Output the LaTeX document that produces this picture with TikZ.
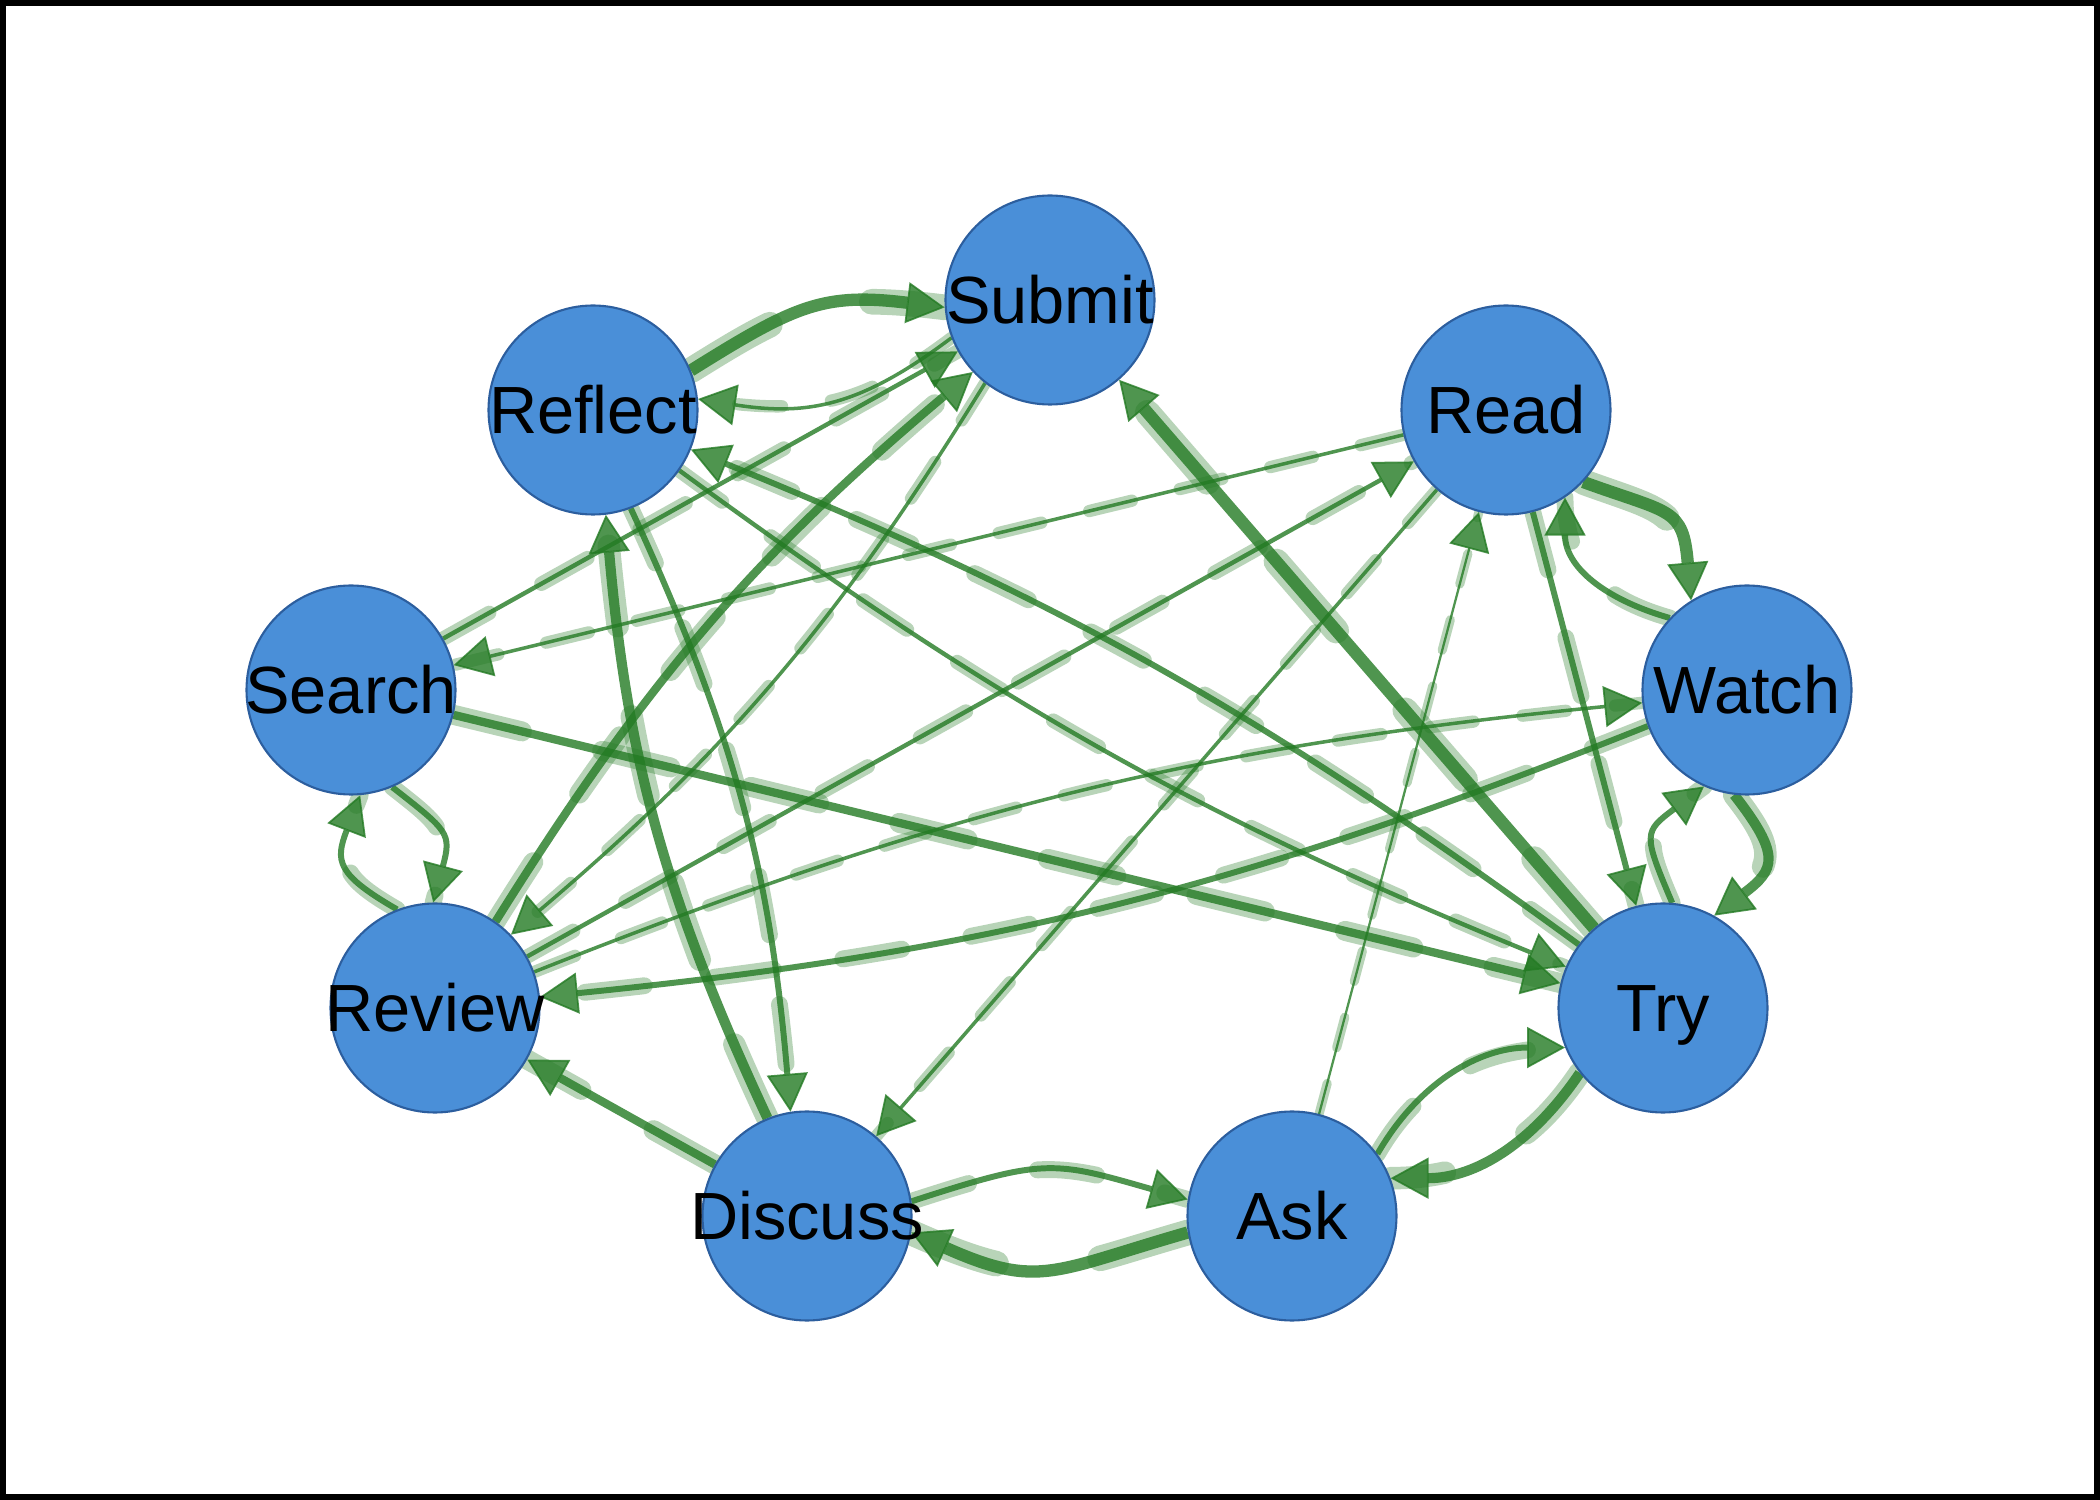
\documentclass[tikz,border=0pt]{standalone}
\usepackage{fontspec}
\setmainfont{Liberation Sans}
\usetikzlibrary{arrows.meta,backgrounds}
\definecolor{lpBlue}{HTML}{4A8FD8}
\definecolor{lpRim}{HTML}{2C5E9E}
\definecolor{lpGreen}{HTML}{237A23}
\tikzset{
  lp node/.style={circle, draw=lpRim, fill=lpBlue, line width=0.6pt, minimum size=20.9mm, inner sep=0pt,
    text height=13.6pt, text depth=0pt, font=\fontsize{19}{23}\selectfont},
  lp edge/.style={draw=lpGreen, opacity=0.8, -{Triangle[length=3.8mm, width=4.1mm, line width=0.5pt]}},
  lp w1/.style={line width=0.65pt, preaction={draw=lpGreen, opacity=0.32, line width=2.6pt, line cap=round, dash pattern=on 9pt off 10.5pt, -}},
  lp w2/.style={line width=1pt, preaction={draw=lpGreen, opacity=0.32, line width=3.5pt, line cap=round, dash pattern=on 12.5pt off 14pt, -}},
  lp w3/.style={line width=1.25pt, preaction={draw=lpGreen, opacity=0.32, line width=4.1pt, line cap=round, dash pattern=on 15pt off 17pt, -}},
  lp w4/.style={line width=1.7pt, preaction={draw=lpGreen, opacity=0.32, line width=4.8pt, line cap=round, dash pattern=on 17pt off 20pt, -}},
  lp w5/.style={line width=2.35pt, preaction={draw=lpGreen, opacity=0.32, line width=5.7pt, line cap=round, dash pattern=on 20pt off 23.5pt, -}},
  lp w6/.style={line width=2.9pt, preaction={draw=lpGreen, opacity=0.32, line width=6.4pt, line cap=round, dash pattern=on 23pt off 26pt, -}},
  lp w7/.style={line width=3.5pt, preaction={draw=lpGreen, opacity=0.32, line width=7.3pt, line cap=round, dash pattern=on 26pt off 30pt, -}},
}

\begin{document}
\begin{tikzpicture}
  \useasboundingbox (0,0) rectangle (21,15);
  \draw[line width=0.06cm] (0.03,0.03) rectangle (20.97,14.97);

  % Activities round the ring
  \node[lp node] (submit)  at (10.50,12.00) {\makebox[0pt]{Submit}};
  \node[lp node] (read)    at (15.06,10.90) {\makebox[0pt]{Read}};
  \node[lp node] (watch)   at (17.47,8.10)  {\makebox[0pt]{Watch}};
  \node[lp node] (try)     at (16.63,4.92)  {\makebox[0pt]{Try}};
  \node[lp node] (ask)     at (12.92,2.84)  {\makebox[0pt]{Ask}};
  \node[lp node] (discuss) at (8.07,2.84)   {\makebox[0pt]{Discuss}};
  \node[lp node] (review)  at (4.35,4.92)   {\makebox[0pt]{Review}};
  \node[lp node] (search)  at (3.51,8.10)   {\makebox[0pt]{Search}};
  \node[lp node] (reflect) at (5.93,10.90)  {\makebox[0pt]{Reflect}};

  \begin{scope}[on background layer]
    % Neighbours on the ring, both ways
    \draw[lp edge, lp w7] (reflect.22) to[out=32, in=173, looseness=1.2] (submit.184);
    \draw[lp edge, lp w2] (submit.201) to[out=217, in=-9, looseness=1.1] (reflect.6);
    \draw[lp edge, lp w7] (read.-43) to[out=-20, in=95, looseness=1.5] (watch.122);
    \draw[lp edge, lp w4] (watch.137) to[out=164, in=-90, looseness=1.1] (read.-56);
    \draw[lp edge, lp w6] (watch.-97) to[out=-52, in=37, looseness=1.6] (try.61);
    \draw[lp edge, lp w4] (try.85) to[out=113, in=-143, looseness=1.6] (watch.-114);
    \draw[lp edge, lp w4] (search.-67) to[out=-38, in=75, looseness=1.5] (review.91);
    \draw[lp edge, lp w4] (review.111) to[out=150, in=-111, looseness=1.5] (search.-85);
    \draw[lp edge, lp w4] (discuss.8) to[out=18, in=164, looseness=1.3] (ask.171);
    \draw[lp edge, lp w7] (ask.189) to[out=196, in=-24, looseness=1.3] (discuss.-9);
    \draw[lp edge, lp w4] (ask.36) to[out=60, in=180] (try.202);
    \draw[lp edge, lp w6] (try.218) to[out=236, in=0] (ask.21);

    % Long pairs, both ways
    \draw[lp edge, lp w5] (review.55) to[bend left=9] (submit.223);
    \draw[lp edge, lp w2] (submit.232) to[bend left=9] (review.44);
    \draw[lp edge, lp w6] (discuss.112) to[bend left=10] (reflect.-83);
    \draw[lp edge, lp w4] (reflect.-69) to[bend left=10] (discuss.99);
    \draw[lp edge, lp w2] (review.20) to[bend left=8] (watch.187);
    \draw[lp edge, lp w4] (watch.200) to[bend left=8] (review.6);
    \draw[lp edge, lp w4] (try.143) to[bend right=7] (reflect.-22);
    \draw[lp edge, lp w3] (reflect.-35) to[bend right=7] (try.157);

    % One way only
    \draw[lp edge, lp w3] (search) -- (submit);
    \draw[lp edge, lp w7] (try) -- (submit);
    \draw[lp edge, lp w3] (review) -- (read);
    \draw[lp edge, lp w1] (ask) -- (read);
    \draw[lp edge, lp w2] (read) -- (search);
    \draw[lp edge, lp w2] (read) -- (discuss);
    \draw[lp edge, lp w4] (read) -- (try);
    \draw[lp edge, lp w5] (search) -- (try);
    \draw[lp edge, lp w5] (discuss) -- (review);
  \end{scope}
\end{tikzpicture}
\end{document}
